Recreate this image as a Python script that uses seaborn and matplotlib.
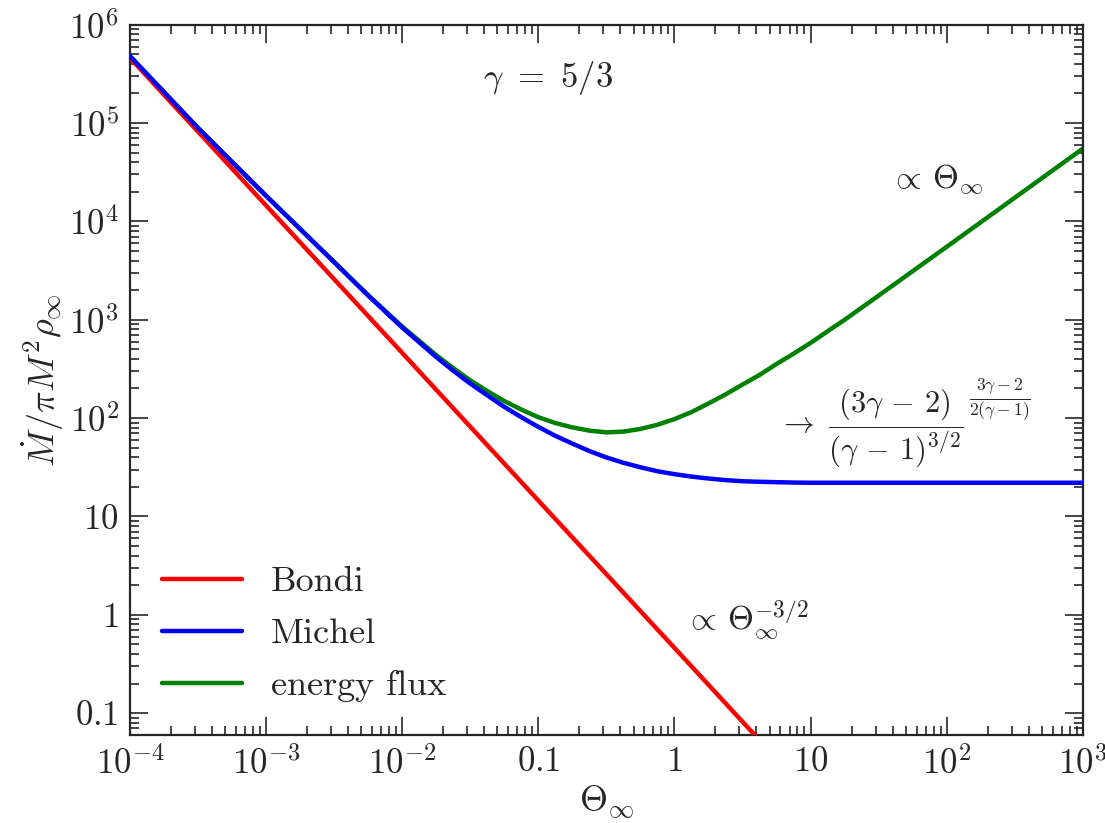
import pandas as pd
import matplotlib
matplotlib.use('Agg')
import matplotlib.pyplot as plt
import seaborn as sns

# 数据
theta_bondi = [1e-4, 1e-3, 1e-2, 0.1, 1.0, 10.0]
bondi = [4.6e5, 1.45e4, 460, 14.5, 0.46, 0.0145]

theta = [1e-4, 3.16e-4, 1e-3, 3.16e-3, 5.62e-3, 1e-2, 1.78e-2, 2.37e-2, 3.16e-2, 4.22e-2,
         5.62e-2, 7.50e-2, 0.1, 0.133, 0.178, 0.237, 0.316, 0.422, 0.562, 0.750,
         1.0, 1.33, 1.78, 2.37, 3.16, 4.22, 5.62, 7.50, 10.0, 13.3,
         17.8, 31.6, 56.2, 100.0, 316.0, 1000.0]
michel = [4.79e5, 8.91e4, 1.82e4, 3850, 1760, 832, 417, 303, 224, 170,
          130, 102, 81.3, 66.1, 55.0, 46.2, 39.8, 35.1, 31.6, 28.8,
          26.9, 25.4, 24.3, 23.4, 22.8, 22.5, 22.3, 22.1, 22.0, 22.0,
          22.0, 22.0, 22.0, 22.0, 22.0, 22.0]
energy = [4.79e5, 8.91e4, 1.82e4, 3870, 1780, 853, 436, 322, 242, 188,
          149, 122, 102, 89.1, 80.4, 74.5, 71.6, 72.8, 77.6, 85.5,
          97.7, 115, 141, 174, 219, 275, 355, 452, 582, 762,
          1000, 1760, 3120, 5520, 1.74e4, 5.50e4]

xticks = [1e-4, 1e-3, 1e-2, 0.1, 1, 10, 100, 1000]
xticklabels = [r'$10^{-4}$', r'$10^{-3}$', r'$10^{-2}$', r'$0.1$', r'$1$', r'$10$', r'$10^2$', r'$10^3$']
yticks = [0.1, 1, 10, 100, 1e3, 1e4, 1e5, 1e6]
yticklabels = [r'$0.1$', r'$1$', r'$10$', r'$10^2$', r'$10^3$', r'$10^4$', r'$10^5$', r'$10^6$']

df_b = pd.DataFrame({'theta': theta_bondi, 'mdot': bondi})
df = pd.DataFrame({'theta': theta, 'michel': michel, 'energy': energy})

sns.set_style('ticks')
plt.rcParams['font.family'] = ['serif']
plt.rcParams['font.serif'] = ['cmr10', 'DejaVu Serif']
plt.rcParams['mathtext.fontset'] = 'cm'
plt.rcParams['axes.unicode_minus'] = False

fig = plt.figure(figsize=(11.05, 8.23), dpi=100)
ax = fig.add_axes([0.1176, 0.107, 0.8624, 0.863])

sns.lineplot(data=df_b, x='theta', y='mdot', color='#ff0000', lw=3.2, label='Bondi', ax=ax, zorder=3)
sns.lineplot(data=df, x='theta', y='energy', color='#008000', lw=3.2, label='energy flux', ax=ax, zorder=2)
sns.lineplot(data=df, x='theta', y='michel', color='#0000ff', lw=3.2, label='Michel', ax=ax, zorder=4)

ax.set_xscale('log')
ax.set_yscale('log')
ax.set_xlim(1e-4, 1e3)
ax.set_ylim(0.06, 1e6)
ax.set_xticks(xticks)
ax.set_xticklabels(xticklabels)
ax.set_yticks(yticks)
ax.set_yticklabels(yticklabels)
ax.tick_params(which='both', direction='in', top=True, right=True, labelsize=25, width=1.2)
ax.tick_params(which='major', length=13, pad=8)
ax.tick_params(which='minor', length=6.5)
for s in ax.spines.values():
    s.set_linewidth(1.6)

ax.set_xlabel(r'$\Theta_\infty$', fontsize=26, labelpad=2)
ax.set_ylabel(r'$\dot M/\pi M^2 \rho_\infty$', fontsize=26, labelpad=2)

# 注释
ax.text(0.439, 0.925, r'$\gamma\ =\ 5/3$', transform=ax.transAxes, fontsize=25, ha='center', va='center')
ax.text(0.847, 0.782, r'$\propto\,\Theta_\infty$', transform=ax.transAxes, fontsize=24, ha='center', va='center')
ax.text(0.647, 0.162, r'$\propto\,\Theta_\infty^{-3/2}$', transform=ax.transAxes, fontsize=24, ha='center', va='center')
ax.text(0.680, 0.432, r'$\rightarrow\ \dfrac{(3\gamma\,-\,2)}{(\gamma\,-\,1)^{3/2}}$', transform=ax.transAxes,
        fontsize=22, ha='left', va='center')
ax.text(0.880, 0.472, r'$\frac{3\gamma-2}{2(\gamma-1)}$', transform=ax.transAxes, fontsize=18,
        ha='left', va='center')

handles, labels = ax.get_legend_handles_labels()
order = [labels.index('Bondi'), labels.index('Michel'), labels.index('energy flux')]
ax.legend([handles[i] for i in order], [labels[i] for i in order], loc='lower left',
          frameon=False, fontsize=26, handlelength=2.2, labelspacing=0.55,
          borderaxespad=0.5, bbox_to_anchor=(0.0, 0.0))

fig.savefig('out.png', dpi=100)
